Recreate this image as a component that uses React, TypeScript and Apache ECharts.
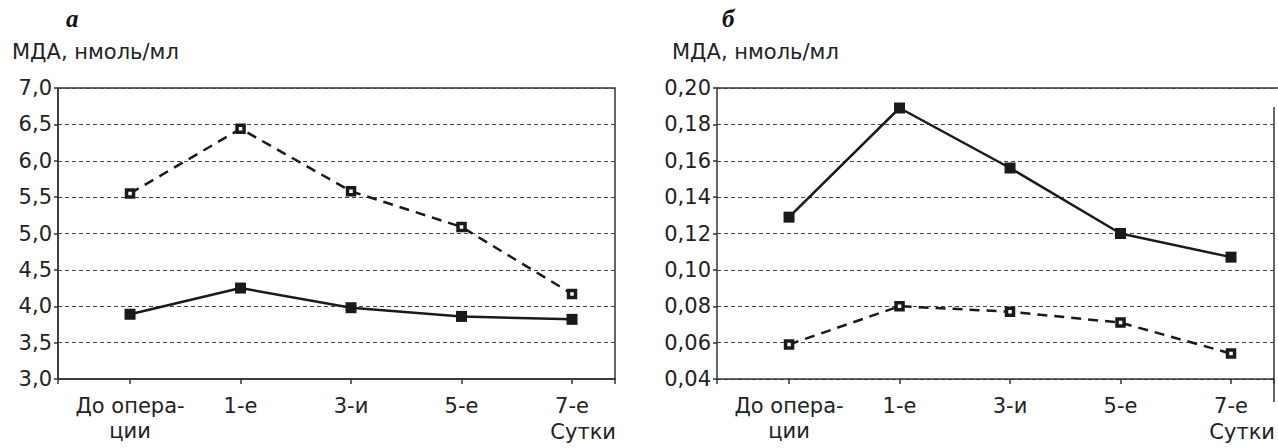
import React, { useEffect, useRef } from "react";
import * as echarts from "echarts";

const categories = ["До опера-\nции", "1-е", "3-и", "5-е", "7-е"];
const leftSolid = [3.89, 4.25, 3.98, 3.86, 3.82];
const leftDashed = [5.55, 6.44, 5.58, 5.09, 4.17];
const rightSolid = [0.129, 0.189, 0.156, 0.12, 0.107];
const rightDashed = [0.059, 0.08, 0.077, 0.071, 0.054];
const panelLetters = ["а", "б"];
const yTitle = "МДА, нмоль/мл";
const xTitle = "Сутки";

const FONT = "DejaVu Sans";
const X_MIN = -0.652;
const X_MAX = 4.389;
const catIdx = categories.map((_, i) => i);

const toPairs = (arr: number[]) => arr.map((v, i) => [i, v]);

const xAxisCfg = (gridIndex: number) => ({
  type: "value",
  gridIndex,
  min: X_MIN,
  max: X_MAX,
  splitLine: { show: false },
  axisLine: { show: true, onZero: false, lineStyle: { color: "#333", width: 1.5 } },
  axisTick: {
    show: true,
    length: 5,
    lineStyle: { color: "#333", width: 1.5 },
    customValues: [X_MIN, ...catIdx, X_MAX],
  },
  axisLabel: {
    show: true,
    customValues: catIdx,
    margin: 14,
    color: "#222",
    fontFamily: FONT,
    fontSize: 21,
    lineHeight: 25,
    align: "center",
    formatter: (v: number) => categories[Math.round(v)] ?? "",
  },
});

const yAxisCfg = (gridIndex: number, min: number, max: number, interval: number, digits: number) => ({
  type: "value",
  gridIndex,
  min,
  max,
  interval,
  axisLine: { show: true, onZero: false, lineStyle: { color: "#333", width: 1.5 } },
  axisTick: { show: true, length: 4, inside: false, lineStyle: { color: "#333", width: 1.5 } },
  axisLabel: {
    margin: 6,
    color: "#222",
    fontFamily: FONT,
    fontSize: 21,
    formatter: (v: number) => v.toFixed(digits).replace(".", ","),
  },
  splitLine: { show: true, lineStyle: { color: "#444", width: 1, type: [4, 3] } },
});

const solidSeries = (idx: number, data: number[]) => ({
  type: "line",
  xAxisIndex: idx,
  yAxisIndex: idx,
  data: toPairs(data),
  symbol: "rect",
  symbolSize: 11,
  lineStyle: { color: "#1a1a1a", width: 2.5 },
  itemStyle: { color: "#1a1a1a" },
  z: 3,
});

const dashedSeries = (idx: number, data: number[]) => ({
  type: "line",
  xAxisIndex: idx,
  yAxisIndex: idx,
  data: toPairs(data),
  symbol: "rect",
  symbolSize: 7,
  showAllSymbol: true,
  lineStyle: { color: "#1a1a1a", width: 2.5, type: [10, 7] },
  itemStyle: { color: "#ffffff", borderColor: "#1a1a1a", borderWidth: 3.5 },
  z: 4,
});

export default function App() {
  const ref = useRef<HTMLDivElement>(null);
  useEffect(() => {
    if (!ref.current) return;
    const chart = echarts.init(ref.current, null, { renderer: "svg" });
    const titleStyle = { fontFamily: FONT, fontSize: 21, fill: "#222" };
    const letterStyle = { fontFamily: "Liberation Serif", fontSize: 25, fontWeight: "bold", fontStyle: "italic", fill: "#111" };
    chart.setOption({
      animation: false,
      backgroundColor: "#ffffff",
      grid: [
        { left: 58, right: 663, top: 88, bottom: 69, show: true, borderColor: "#333", borderWidth: 1.5, backgroundColor: "transparent" },
        { left: 717, right: 4, top: 88, bottom: 69, show: false },
      ],
      xAxis: [xAxisCfg(0), xAxisCfg(1)],
      yAxis: [yAxisCfg(0, 3, 7, 0.5, 1), yAxisCfg(1, 0.04, 0.2, 0.02, 2)],
      series: [
        solidSeries(0, leftSolid),
        dashedSeries(0, leftDashed),
        solidSeries(1, rightSolid),
        dashedSeries(1, rightDashed),
      ],
      graphic: [
        { type: "text", left: 66, top: 6, style: { text: panelLetters[0], ...letterStyle } },
        { type: "text", left: 722, top: 6, style: { text: panelLetters[1], ...letterStyle } },
        { type: "text", left: 12, top: 41, style: { text: yTitle, ...titleStyle } },
        { type: "text", left: 672, top: 41, style: { text: yTitle, ...titleStyle } },
        { type: "text", right: 1278 - 616, top: 421, style: { text: xTitle, ...titleStyle } },
        { type: "text", right: 3, top: 421, style: { text: xTitle, ...titleStyle } },
        { type: "line", shape: { x1: 717, y1: 88, x2: 1278, y2: 88 }, style: { stroke: "#333", lineWidth: 1.5 } },
        { type: "line", shape: { x1: 1274, y1: 107, x2: 1274, y2: 402 }, style: { stroke: "#333", lineWidth: 1.5 } },
      ],
    });
    return () => chart.dispose();
  }, []);
  return (
    <div
      ref={ref}
      style={{ position: "fixed", left: 0, top: 0, width: 1278, height: 448, background: "#fff" }}
    />
  );
}
